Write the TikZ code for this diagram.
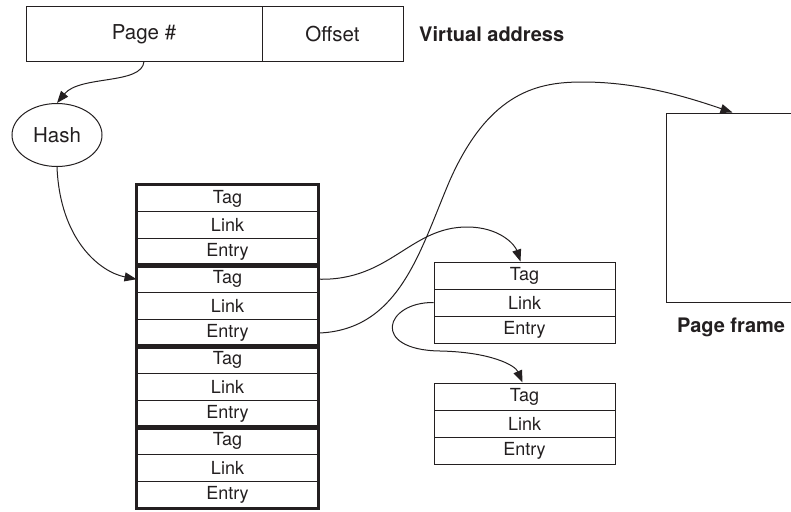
\documentclass[tikz,border=0pt]{standalone}
\usepackage{fontspec}
\setmainfont{TeX Gyre Heros}
\usetikzlibrary{arrows.meta,shapes.geometric}
\definecolor{ink}{HTML}{231F20}
\begin{document}
\begin{tikzpicture}[x=1pt,y=-1pt,
  cell/.style={draw=ink, line width=1pt, minimum width=181pt, minimum height=26.92pt, inner sep=0pt, font=\fontsize{18}{20}\selectfont, text=ink},
  scell/.style={cell, minimum height=27pt},
  group/.style={draw=ink, line width=3.8pt},
  conn/.style={draw=ink, line width=1pt, -{Triangle[length=12pt,width=9pt]}},
  addr/.style={draw=ink, line width=1pt, minimum height=54pt, inner sep=0pt, font=\fontsize{20.5}{24}\selectfont, text=ink},
  boldcap/.style={font=\fontsize{20}{24}\selectfont\bfseries, text=ink, inner sep=0pt}]
\path[use as bounding box] (0,0) rectangle (791,511);
\clip (0,0) rectangle (791,511);

% virtual address
\node[addr, minimum width=236pt] (pg) at (144,34) {Page \#};
\node[addr, minimum width=141pt] (off) at (332.5,34) {Offset};
\node[boldcap, anchor=west] (va) at (419,34) {Virtual address};

% hash
\node[ellipse, draw=ink, line width=1pt, minimum width=90pt, minimum height=63pt, inner sep=0pt, font=\fontsize{20.5}{24}\selectfont, text=ink] (hash) at (57,135) {Hash};

% main table
\foreach \i/\t in {1/Tag,2/Link,3/Entry,4/Tag,5/Link,6/Entry,7/Tag,8/Link,9/Entry,10/Tag,11/Link,12/Entry}
  \node[cell] (m\i) at (227.5,{185+26.917*(\i-0.5)}) {\t};
\foreach \a/\b in {1/3,4/6,7/9,10/12}
  \draw[group] (m\a.north west) rectangle (m\b.south east);

% chain tables
\foreach \i/\t in {1/Tag,2/Link,3/Entry}
  \node[scell] (a\i) at (524.5,{262+27*(\i-0.5)}) {\t};
\foreach \i/\t in {1/Tag,2/Link,3/Entry}
  \node[scell] (b\i) at (524.5,{383+27*(\i-0.5)}) {\t};

% page frame
\node[draw=ink, line width=1pt, minimum width=135pt, minimum height=189pt, inner sep=0pt] (frame) at (733.5,207.5) {};
\node[boldcap] (pf) at (731,327) {Page frame};

% connectors
\draw[conn] (pg.south) .. controls (142,85) and (80,75) .. (hash.north);
\draw[conn] (hash.south) .. controls (60,240) and (100,272) .. (m4.west);
\draw[conn] (m4.east) .. controls (390,281) and (410,227) .. (467,227)
  .. controls (500,227) and (515,245) .. ([xshift=-4pt]a1.north);
\draw[conn] (m6.east) .. controls (400,330) and (420,250) .. (450,180)
  .. controls (490,90) and (540,82) .. (583,82)
  .. controls (640,82) and (690,98) .. ([xshift=-1pt]frame.north);
\draw[conn] (a2.west) .. controls (385,302) and (370,350) .. (440,351)
  .. controls (490,352) and (515,365) .. ([xshift=-2pt]b1.north);
\end{tikzpicture}
\end{document}
